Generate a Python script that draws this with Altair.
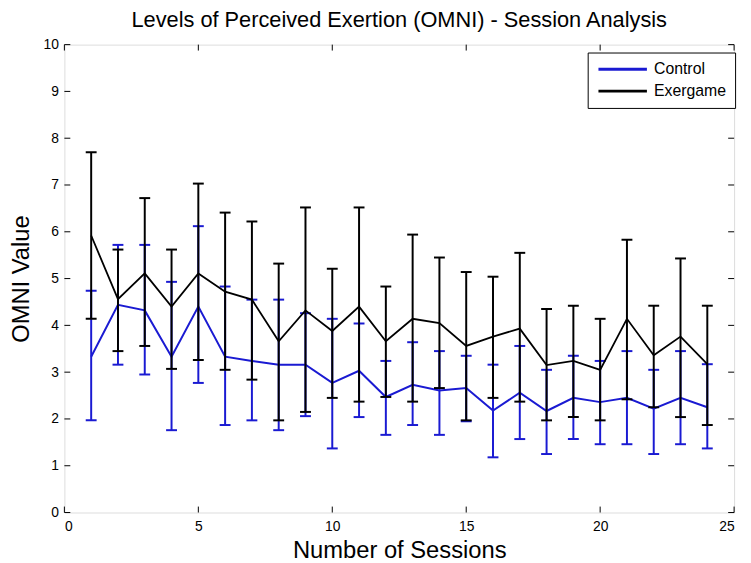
import altair as alt
import pandas as pd

sessions = list(range(1, 25))

exer_mean = [5.92, 4.56, 5.11, 4.40, 5.11, 4.72, 4.55, 3.66, 4.32, 3.88, 4.40, 3.66,
             4.14, 4.05, 3.56, 3.76, 3.93, 3.15, 3.24, 3.05, 4.14, 3.36, 3.76, 3.17]
exer_upper = [7.70, 5.62, 6.72, 5.62, 7.03, 6.41, 6.22, 5.32, 6.52, 5.21, 6.52, 4.83,
              5.94, 5.45, 5.14, 5.04, 5.55, 4.35, 4.42, 4.14, 5.83, 4.42, 5.43, 4.42]
exer_lower = [4.14, 3.45, 3.56, 3.07, 3.26, 3.05, 2.84, 1.97, 2.15, 2.45, 2.37, 2.47,
              2.37, 2.66, 1.97, 2.45, 2.37, 1.97, 2.04, 1.97, 2.42, 2.25, 2.04, 1.87]

ctrl_mean = [3.33, 4.44, 4.32, 3.33, 4.40, 3.33, 3.24, 3.16, 3.16, 2.77, 3.03, 2.47,
             2.73, 2.61, 2.66, 2.18, 2.56, 2.17, 2.45, 2.36, 2.45, 2.22, 2.45, 2.25]
ctrl_upper = [4.74, 5.72, 5.72, 4.93, 6.12, 4.83, 4.55, 4.55, 4.26, 4.14, 4.04, 3.24,
              3.64, 3.45, 3.35, 3.16, 3.56, 3.05, 3.35, 3.24, 3.45, 3.05, 3.45, 3.17]
ctrl_lower = [1.97, 3.16, 2.95, 1.76, 2.77, 1.87, 1.97, 1.76, 2.06, 1.37, 2.04, 1.66,
              1.87, 1.66, 1.95, 1.18, 1.57, 1.25, 1.57, 1.46, 1.46, 1.25, 1.46, 1.37]

x_ticks = [0, 5, 10, 15, 20, 25]
y_ticks = list(range(0, 11))

groups = ["Control", "Exergame"]
colors = ["#1a1ad2", "#000000"]

W, H = 677, 473

ctrl = pd.DataFrame({"session": sessions, "mean": ctrl_mean, "upper": ctrl_upper,
                     "lower": ctrl_lower, "group": "Control"})
exer = pd.DataFrame({"session": sessions, "mean": exer_mean, "upper": exer_upper,
                     "lower": exer_lower, "group": "Exergame"})

xs = alt.Scale(domain=[0, 25], nice=False)
ys = alt.Scale(domain=[0, 10], nice=False)
cs = alt.Scale(domain=groups, range=colors)

xaxis = alt.Axis(values=x_ticks, title="Number of Sessions", grid=False, ticks=False,
                 domain=False, labelFontSize=14, labelPadding=7, titleFontSize=24,
                 titlePadding=5, titleFontWeight="normal", labelColor="black",
                 titleColor="black", labelFont="Liberation Sans Narrow, Liberation Sans",
                 titleFont="Liberation Sans")
yaxis = alt.Axis(values=y_ticks, title="OMNI Value", grid=False, ticks=False,
                 domain=False, labelFontSize=14, labelPadding=6, titleFontSize=24,
                 titlePadding=10, titleFontWeight="normal", labelColor="black",
                 titleColor="black", labelFont="Liberation Sans Narrow, Liberation Sans",
                 titleFont="Liberation Sans")

legend = alt.Legend(
    title=None, orient="none", legendX=529, legendY=8,
    symbolType="M-1,0H7", symbolSize=150, symbolStrokeWidth=3, symbolOpacity=1,
    labelOffset=42, labelFontSize=16, labelFont="Liberation Sans",
    labelColor="black", rowPadding=6, padding=9,
    strokeColor="black", fillColor="white", labelLimit=200)
color = alt.Color("group:N", scale=cs, legend=legend)


def series(df, lw):
    base = alt.Chart(df)
    bars = base.mark_rule(strokeWidth=2, opacity=1).encode(
        x=alt.X("session:Q", scale=xs, axis=xaxis),
        y=alt.Y("lower:Q", scale=ys, axis=yaxis),
        y2="upper:Q",
        color=color,
    )
    capu = base.mark_tick(orient="horizontal", size=11, thickness=2, opacity=1).encode(
        x="session:Q", y="upper:Q", color=color)
    capl = base.mark_tick(orient="horizontal", size=11, thickness=2, opacity=1).encode(
        x="session:Q", y="lower:Q", color=color)
    line = base.mark_line(strokeWidth=lw).encode(
        x="session:Q", y="mean:Q", color=color)
    return [bars, capu, capl, line]


xt = pd.DataFrame({"t": x_ticks})
yt = pd.DataFrame({"t": y_ticks})
tick_b = alt.Chart(xt).mark_rule(color="black").encode(
    x="t:Q", y=alt.value(H), y2=alt.value(H - 6))
tick_t = alt.Chart(xt).mark_rule(color="black").encode(
    x="t:Q", y=alt.value(0), y2=alt.value(6))
tick_l = alt.Chart(yt).mark_rule(color="black").encode(
    y="t:Q", x=alt.value(0), x2=alt.value(6))
tick_r = alt.Chart(yt).mark_rule(color="black").encode(
    y="t:Q", x=alt.value(W), x2=alt.value(W - 6))

layers = series(ctrl, 2) + series(exer, 1.8) + [tick_b, tick_t, tick_l, tick_r]

chart = alt.layer(*layers).properties(
    width=W, height=H,
    title=alt.TitleParams("Levels of Perceived Exertion (OMNI) - Session Analysis",
                          fontSize=22, fontWeight="normal", font="Liberation Sans",
                          color="black", anchor="middle", offset=6),
    autosize=alt.AutoSizeParams(type="none"),
    padding={"left": 57, "top": 34, "right": 9, "bottom": 48},
).configure_view(stroke="black", strokeWidth=1).configure(background="white")

chart.save("out.html", embed_options={"renderer": "svg", "actions": False})
